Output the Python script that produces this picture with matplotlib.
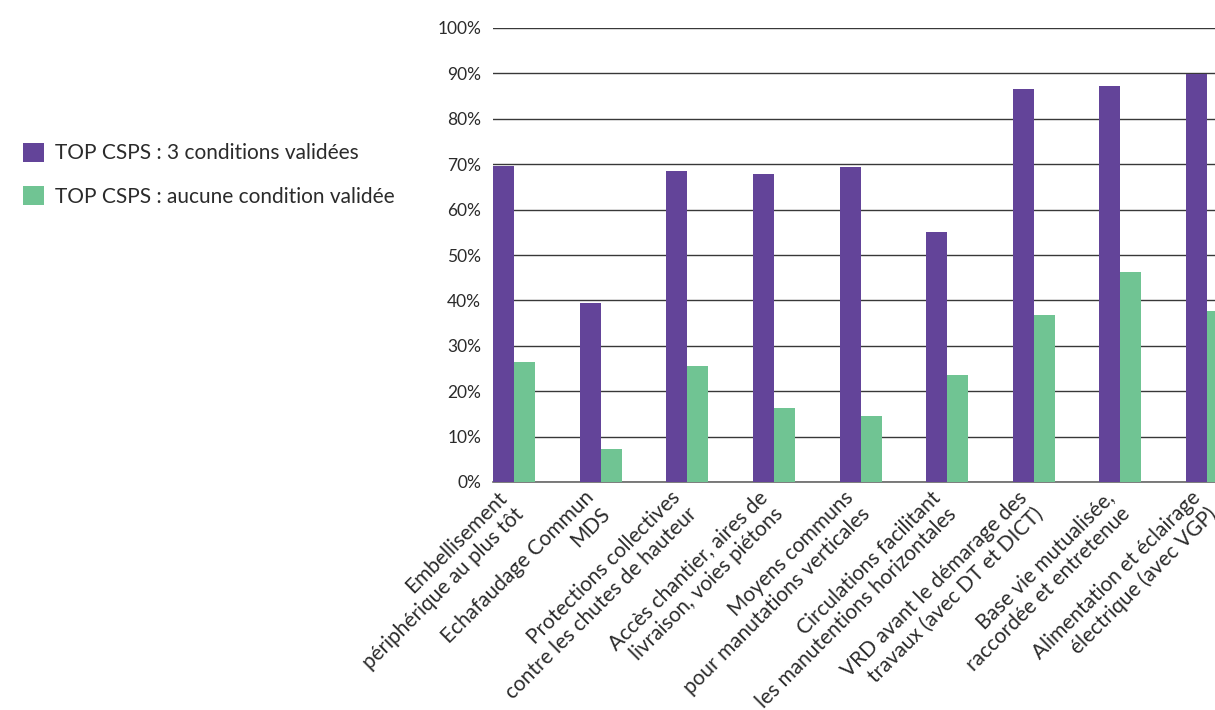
import matplotlib.pyplot as plt
import matplotlib.transforms as mtransforms
import numpy as np

plt.rcParams['font.family'] = ['Lato', 'DejaVu Sans']

# postes d'installation de chantier
categories = [
    "Embellisement\npériphérique au plus tôt",
    "Echafaudage Commun\nMDS",
    "Protections collectives\ncontre les chutes de hauteur",
    "Accès chantier, aires de\nlivraison, voies piétons",
    "Moyens communs\npour manutations verticales",
    "Circulations facilitant\nles manutentions horizontales",
    "VRD avant le démarage des\ntravaux (avec DT et DICT)",
    "Base vie mutualisée,\nraccordée et entretenue",
    "Alimentation et éclairage\nélectrique (avec VGP)",
]
# part des chantiers (%)
top_3_conditions = [69.5, 39.5, 68.5, 67.8, 69.4, 55.1, 86.6, 87.2, 89.9]
top_aucune = [26.4, 7.3, 25.6, 16.3, 14.5, 23.6, 36.8, 46.3, 37.7]
series_names = ["TOP CSPS : 3 conditions validées",
                "TOP CSPS : aucune condition validée"]

purple = "#634499"
green = "#70C493"
text_col = "#2b2b2b"

fig = plt.figure(figsize=(12.15, 7.10), dpi=100)
ax = fig.add_axes([493 / 1215, 228 / 710, 779 / 1215, 454 / 710])

x = np.arange(len(categories))
w = 0.2425
b1 = ax.bar(x - w / 2, top_3_conditions, w, color=purple, label=series_names[0], zorder=3)
b2 = ax.bar(x + w / 2, top_aucune, w, color=green, label=series_names[1], zorder=3)

ax.set_xlim(-w, 8.75)
ax.set_ylim(0, 100)
ax.set_yticks(range(0, 101, 10))
ax.set_yticklabels([f"{v}%" for v in range(0, 101, 10)], fontsize=12.5, color=text_col)
ax.yaxis.grid(True, color="#383838", linewidth=1.0, zorder=0)
ax.tick_params(axis="y", length=0, pad=8.5)
for s in ["top", "right", "left"]:
    ax.spines[s].set_visible(False)
ax.spines["bottom"].set_color("#666666")
ax.spines["bottom"].set_linewidth(1.2)

# rotated two-line labels, right-aligned, shifted a bit left of the group centre
ax.set_xticks(x)
ax.set_xticklabels(categories, rotation=45, ha="right", va="top",
                   rotation_mode="anchor", multialignment="right",
                   fontsize=15, color=text_col)
ax.tick_params(axis="x", length=0, pad=4)
shift = mtransforms.ScaledTranslation(-17 / 100, 0, fig.dpi_scale_trans)
for lab in ax.get_xticklabels():
    lab.set_transform(lab.get_transform() + shift)

fig.legend(handles=[b1, b2], loc="upper left", bbox_to_anchor=(23 / 1215, 1 - 143 / 710),
           frameon=False, fontsize=15, handlelength=1.0, handleheight=1.0,
           handletextpad=0.55, labelspacing=1.1, borderpad=0, borderaxespad=0,
           labelcolor=text_col)

fig.savefig("out.png", dpi=100)
